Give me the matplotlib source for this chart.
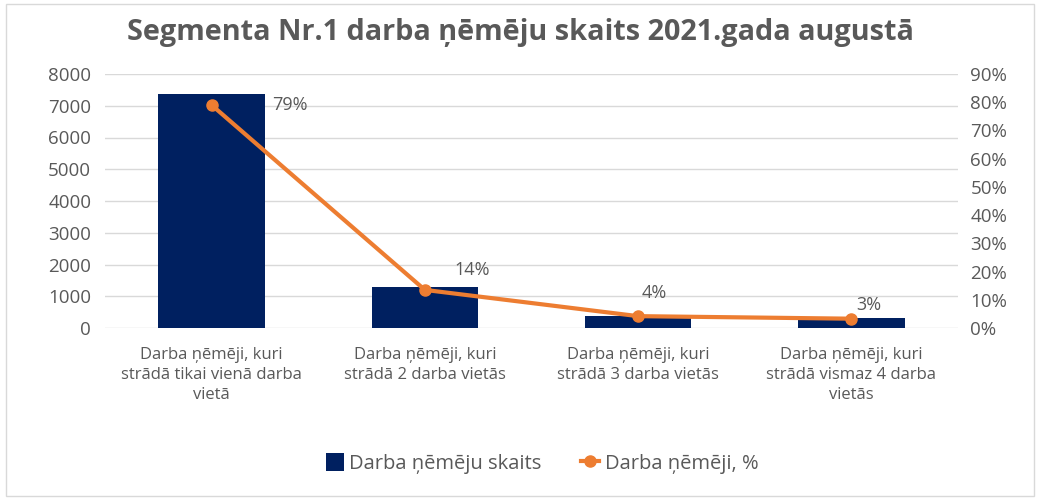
import matplotlib
matplotlib.use("Agg")
import matplotlib.pyplot as plt
from matplotlib.ticker import FuncFormatter
from matplotlib.patches import Rectangle

plt.rcParams["font.family"] = ["Open Sans", "DejaVu Sans"]

title = "Segmenta Nr.1 darba ņēmēju skaits 2021.gada augustā"
categories = [
    "Darba ņēmēji, kuri\nstrādā tikai vienā darba\nvietā",
    "Darba ņēmēji, kuri\nstrādā 2 darba vietās",
    "Darba ņēmēji, kuri\nstrādā 3 darba vietās",
    "Darba ņēmēji, kuri\nstrādā vismaz 4 darba\nvietās",
]
counts = [7380, 1280, 380, 300]
shares = [0.79, 0.135, 0.042, 0.033]
share_labels = ["79%", "14%", "4%", "3%"]
label_offsets = [(56, 0), (34, 14), (12, 17), (13, 10)]

grey = "#595959"
bar_col = "#002060"
line_col = "#ED7D31"

fig = plt.figure(figsize=(10.4, 5.0), dpi=100)
fig.patches.append(Rectangle((0.006, 0.008), 0.988, 0.984, transform=fig.transFigure,
                             fill=False, edgecolor="#d9d9d9", linewidth=1))

ax = fig.add_axes([0.101, 0.344, 0.820, 0.508])
ax2 = ax.twinx()

x = range(len(categories))
ax.bar(x, counts, width=0.5, color=bar_col, label="Darba ņēmēju skaits", zorder=2)
ax.set_ylim(0, 8000)
ax.set_yticks(range(0, 8001, 1000))
ax.set_xlim(-0.5, len(categories) - 0.5)
ax.set_xticks(list(x))
ax.set_xticklabels(categories, color=grey, linespacing=1.3)
ax.grid(axis="y", color="#d9d9d9", linewidth=1, zorder=0)
ax.set_axisbelow(True)

ax2.plot(x, shares, color=line_col, linewidth=3, marker="o", markersize=8,
         label="Darba ņēmēji, %", zorder=3)
ax2.set_ylim(0, 0.9)
ax2.set_yticks([i / 10 for i in range(10)])
ax2.yaxis.set_major_formatter(FuncFormatter(lambda v, p: f"{v * 100:.0f}%"))

for i, (s, lab) in enumerate(zip(shares, share_labels)):
    dx, dy = label_offsets[i]
    ax2.annotate(lab, (i, s), xytext=(dx, dy), textcoords="offset points",
                 ha="center", va="center", fontsize=13, color=grey)

for a in (ax, ax2):
    for sp in a.spines.values():
        sp.set_visible(False)
    a.tick_params(length=0, labelsize=13.5, labelcolor=grey)
ax.tick_params(axis="x", labelsize=12, pad=14)
ax.tick_params(axis="y", pad=10)
ax2.tick_params(axis="y", pad=9)

fig.text(0.5, 0.935, title, ha="center", va="center", fontsize=20.8, fontweight="bold", color=grey)

h1, l1 = ax.get_legend_handles_labels()
h2, l2 = ax2.get_legend_handles_labels()
fig.legend(h1 + h2, l1 + l2, loc="center", bbox_to_anchor=(0.521, 0.073), ncol=2,
           frameon=False, fontsize=14.5, labelcolor=grey, handlelength=0.9, handleheight=1.0,
           handletextpad=0.25, columnspacing=2.0)

fig.savefig("out.png", dpi=100)
